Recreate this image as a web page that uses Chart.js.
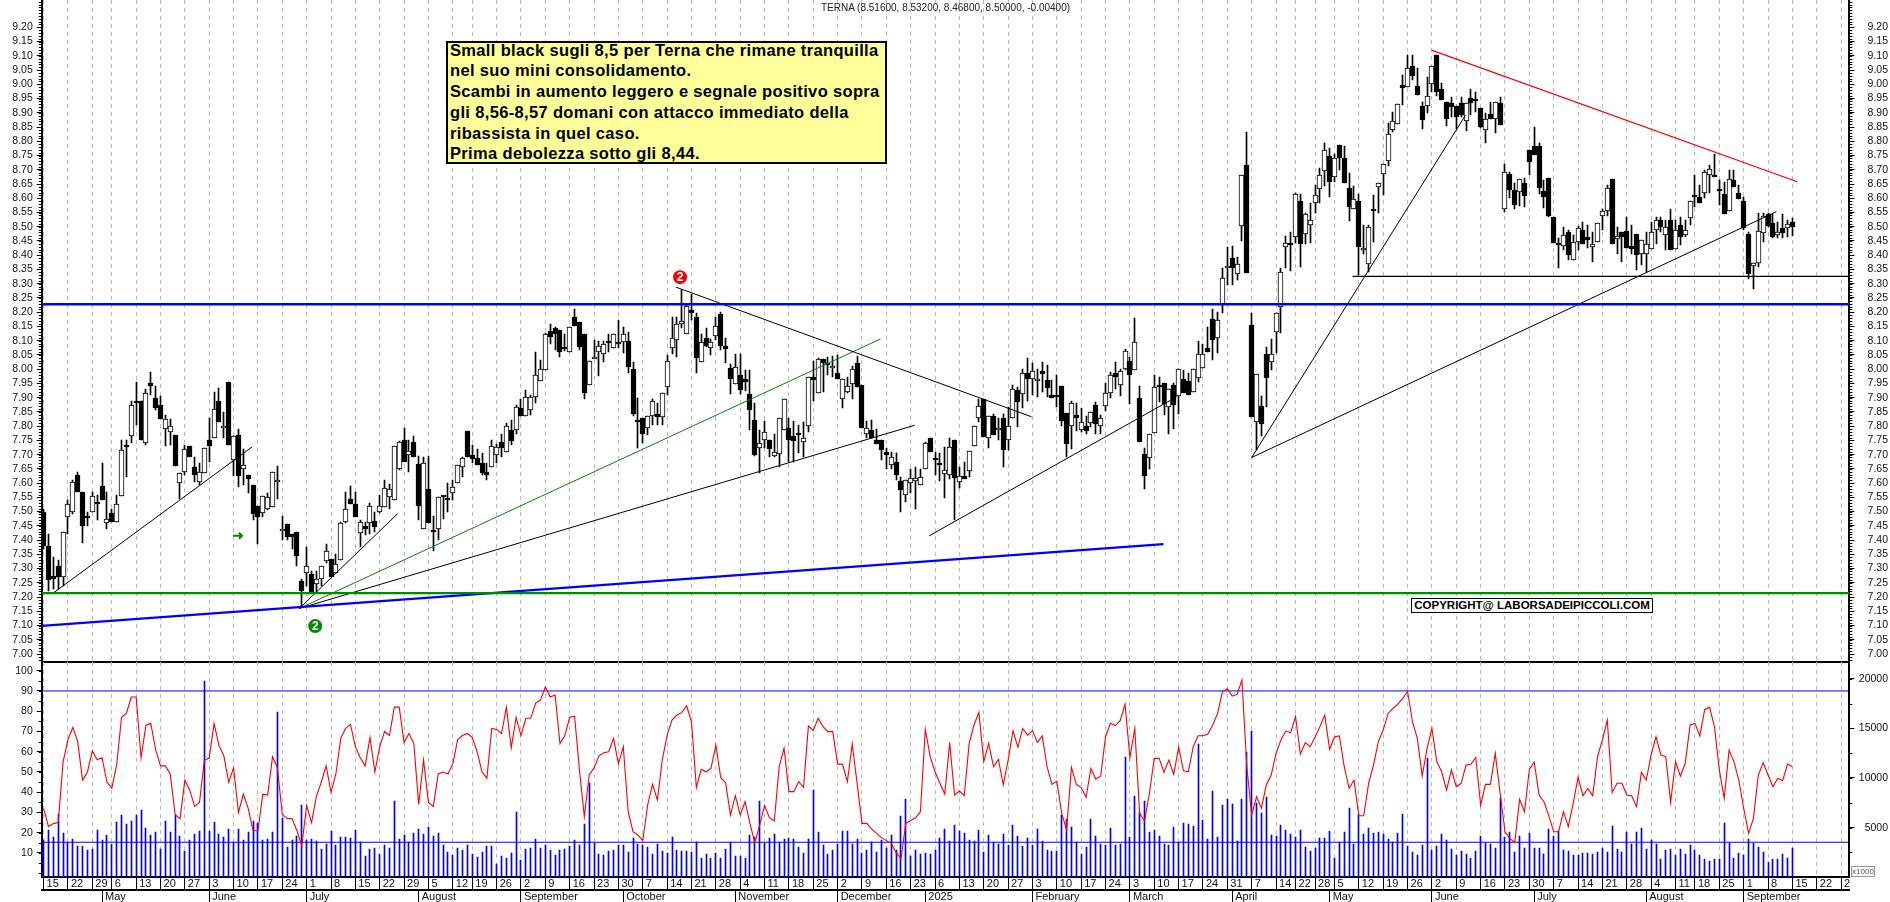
<!DOCTYPE html>
<html>
<head>
<meta charset="utf-8">
<title>TERNA</title>
<script src="https://cdn.jsdelivr.net/npm/chart.js@4/dist/chart.umd.min.js"></script>
<style>
html, body { margin: 0; padding: 0; background: #fff; width: 1890px; height: 902px; overflow: hidden; }
canvas { position: absolute; left: 0; }
#mainCanvas { top: 0; }
#lowerCanvas { top: 662px; }
.note { position: absolute; font-family: "Liberation Sans", Arial, sans-serif; white-space: nowrap; z-index: 5; box-sizing: border-box; }
#title { left: 821px; top: 2px; font-size: 10px; line-height: 12px; color: #222; }
#comment { left: 446px; top: 41px; width: 441px; height: 123px; background: #ffff99; border: 2px solid #000; padding: 0 0 0 2px; font-weight: bold; font-size: 16.5px; letter-spacing: 0.34px; line-height: 20.8px; color: #000; }
#comment div { margin-top: -3.5px; }
#copyright { left: 1411px; top: 598px; width: 242px; height: 15px; background: #fff; border: 1px solid #000; font-weight: bold; font-size: 11.5px; line-height: 13px; text-align: center; color: #000; }
#scaleNote { left: 1851px; top: 866px; width: 24px; height: 11px; background: #fff; border: 1px solid #999; font-size: 8px; line-height: 9px; text-align: center; color: #555; }
</style>
</head>
<body>
<canvas id="mainCanvas" width="1890" height="664"></canvas>
<canvas id="lowerCanvas" width="1890" height="240"></canvas>
<div class="note" id="title">TERNA (8.51600, 8.53200, 8.46800, 8.50000, -0.00400)</div>
<div class="note" id="comment"><div>Small black sugli 8,5 per Terna che rimane tranquilla<br>nel suo mini consolidamento.<br>Scambi in aumento leggero e segnale positivo sopra<br>gli 8,56-8,57 domani con attacco immediato della<br>ribassista in quel caso.<br>Prima debolezza sotto gli 8,44.</div></div>
<div class="note" id="copyright">COPYRIGHT@ LABORSADEIPICCOLI.COM</div>
<div class="note" id="scaleNote">x1000</div>
<script>
// daily bars, 15 Apr 2024 -> 15 Sep 2025
const opens = [
7.50,7.38,7.275,7.31,7.27,7.48,7.50,7.63,7.57,7.485,
7.50,7.535,7.59,7.46,7.495,7.465,7.555,7.735,7.765,7.89,
7.89,7.74,7.95,7.90,7.875,7.79,7.78,7.77,7.60,7.64,
7.73,7.655,7.605,7.635,7.75,7.76,7.89,7.795,7.955,7.68,
7.77,7.65,7.63,7.595,7.52,7.495,7.51,7.515,7.605,7.431,
7.455,7.42,7.43,7.255,7.285,7.28,7.245,7.265,7.325,7.335,
7.285,7.33,7.465,7.545,7.525,7.424,7.448,7.46,7.466,7.50,
7.515,7.552,7.542,7.651,7.75,7.697,7.746,7.667,7.44,7.578,
7.437,7.44,7.555,7.549,7.566,7.599,7.655,7.782,7.698,7.687,
7.669,7.64,7.658,7.70,7.743,7.71,7.788,7.785,7.863,7.836,
7.855,7.903,7.96,7.998,8.134,8.144,8.137,8.075,8.061,8.183,
8.165,8.125,7.946,8.035,8.059,8.052,8.10,8.076,8.097,8.094,
8.10,8.0,7.822,7.83,7.795,7.836,7.841,7.833,7.936,8.075,
8.104,8.16,8.124,8.207,8.183,8.024,8.111,8.073,8.117,8.193,
8.082,8.004,7.948,7.981,7.967,7.912,7.821,7.724,7.753,7.753,
7.696,7.703,7.788,7.795,7.766,7.777,7.744,7.802,7.971,7.918,
8.036,8.021,8.003,7.988,7.894,7.92,7.949,8.02,7.944,7.774,
7.785,7.75,7.75,7.708,7.664,7.674,7.606,7.56,7.599,7.606,
7.593,7.65,7.76,7.689,7.671,7.631,7.63,7.751,7.603,7.624,
7.644,7.73,7.827,7.896,7.757,7.834,7.785,7.827,7.753,7.83,
7.926,7.914,7.985,7.964,7.96,7.992,7.962,7.908,7.909,7.94,
7.845,7.799,7.839,7.785,7.80,7.81,7.873,7.802,7.87,7.918,
7.985,7.945,8.0,8.03,7.998,7.90,7.702,7.688,7.777,7.944,
7.95,7.868,7.944,7.906,7.967,7.958,7.921,7.97,8.005,8.076,
8.175,8.109,8.23,8.354,8.392,8.333,8.503,8.716,8.155,7.815,
7.87,8.053,8.024,8.129,8.217,8.429,8.444,8.465,8.592,8.473,
8.505,8.585,8.631,8.694,8.748,8.676,8.787,8.741,8.635,8.561,
8.59,8.418,8.368,8.562,8.638,8.684,8.73,8.838,8.859,8.996,
8.992,9.064,8.994,8.924,8.924,9.0,9.103,8.983,8.937,8.933,
8.924,8.935,8.872,8.951,8.949,8.916,8.84,8.895,8.88,8.933,
8.564,8.685,8.629,8.622,8.652,8.769,8.785,8.783,8.625,8.671,
8.534,8.443,8.434,8.481,8.384,8.445,8.49,8.463,8.43,8.445,
8.539,8.554,8.666,8.458,8.48,8.486,8.431,8.473,8.405,8.403,
8.423,8.49,8.522,8.472,8.522,8.423,8.505,8.472,8.531,8.613,
8.603,8.617,8.682,8.681,8.633,8.615,8.556,8.664,8.62,8.592,
8.473,8.363,8.373,8.477,8.544,8.513,8.472,8.497,8.497,8.516];
const highs = [
7.51,7.42,7.34,7.33,7.43,7.54,7.61,7.64,7.57,7.50,
7.57,7.56,7.67,7.57,7.51,7.56,7.75,7.75,7.89,7.955,
7.89,7.93,7.99,7.94,7.905,7.84,7.825,7.77,7.635,7.735,
7.73,7.69,7.67,7.725,7.83,7.92,7.935,7.85,7.955,7.765,
7.79,7.72,7.63,7.595,7.52,7.555,7.565,7.64,7.66,7.485,
7.455,7.42,7.43,7.265,7.375,7.29,7.29,7.31,7.385,7.335,
7.35,7.465,7.57,7.59,7.57,7.47,7.464,7.53,7.50,7.558,
7.61,7.596,7.729,7.749,7.793,7.75,7.765,7.695,7.69,7.695,
7.484,7.55,7.555,7.60,7.61,7.662,7.69,7.782,7.733,7.72,
7.704,7.67,7.753,7.737,7.772,7.81,7.82,7.874,7.897,7.926,
7.909,8.061,8.032,8.128,8.158,8.149,8.137,8.125,8.147,8.213,
8.165,8.125,8.028,8.104,8.10,8.10,8.123,8.125,8.172,8.149,
8.131,8.024,7.90,7.83,7.836,7.894,7.88,7.918,8.05,8.184,
8.184,8.278,8.23,8.263,8.198,8.125,8.146,8.105,8.184,8.20,
8.108,8.017,8.055,8.055,7.997,7.997,7.88,7.786,7.819,7.753,
7.774,7.83,7.894,7.827,7.819,7.804,7.815,7.973,8.03,8.038,
8.036,8.041,8.046,8.049,7.965,7.973,8.01,8.046,7.944,7.819,
7.823,7.79,7.75,7.722,7.71,7.706,7.622,7.612,7.649,7.655,
7.651,7.745,7.76,7.71,7.704,7.727,7.757,7.751,7.657,7.675,
7.714,7.799,7.897,7.896,7.836,7.844,7.827,7.844,7.868,7.944,
7.936,8.0,8.038,8.02,8.0,8.026,8.014,7.962,7.979,7.94,
7.845,7.888,7.883,7.862,7.835,7.85,7.885,7.839,7.95,7.99,
8.025,8.0,8.07,8.044,8.178,7.94,7.722,7.771,7.979,7.973,
7.95,7.931,7.95,7.999,7.997,7.985,8.0,8.10,8.09,8.149,
8.213,8.20,8.354,8.43,8.432,8.395,8.681,8.834,8.196,7.982,
7.905,8.079,8.105,8.196,8.354,8.467,8.482,8.62,8.616,8.549,
8.584,8.646,8.705,8.793,8.775,8.757,8.787,8.783,8.687,8.643,
8.615,8.506,8.506,8.611,8.654,8.722,8.863,8.904,8.93,9.032,
9.103,9.103,9.056,8.939,9.024,9.064,9.103,9.003,8.937,8.957,
8.924,8.957,8.933,8.982,8.974,8.916,8.898,8.939,8.937,8.957,
8.72,8.693,8.652,8.666,8.67,8.769,8.849,8.793,8.664,8.671,
8.534,8.459,8.50,8.49,8.47,8.502,8.516,8.506,8.482,8.514,
8.564,8.646,8.666,8.50,8.48,8.535,8.506,8.473,8.455,8.482,
8.517,8.535,8.535,8.523,8.564,8.523,8.535,8.523,8.589,8.681,
8.646,8.699,8.716,8.757,8.664,8.658,8.699,8.699,8.646,8.605,
8.482,8.373,8.549,8.549,8.549,8.544,8.517,8.544,8.523,8.532];
const lows = [
7.37,7.22,7.23,7.23,7.24,7.42,7.49,7.57,7.39,7.45,
7.50,7.47,7.54,7.44,7.465,7.465,7.555,7.62,7.74,7.805,
7.75,7.735,7.91,7.855,7.825,7.73,7.735,7.66,7.545,7.63,
7.69,7.605,7.595,7.635,7.675,7.76,7.815,7.76,7.735,7.625,
7.585,7.595,7.565,7.47,7.385,7.48,7.505,7.515,7.545,7.40,
7.40,7.37,7.31,7.165,7.24,7.215,7.215,7.24,7.32,7.27,
7.285,7.33,7.46,7.525,7.48,7.376,7.418,7.42,7.43,7.496,
7.515,7.51,7.542,7.646,7.675,7.64,7.692,7.47,7.44,7.46,
7.36,7.40,7.473,7.50,7.54,7.599,7.62,7.692,7.67,7.664,
7.63,7.61,7.658,7.67,7.69,7.71,7.733,7.774,7.836,7.836,
7.838,7.882,7.96,7.998,8.09,8.067,8.044,8.065,8.061,8.152,
8.067,7.895,7.946,8.035,7.976,8.026,8.06,8.076,8.076,8.057,
7.987,7.836,7.724,7.74,7.768,7.804,7.804,7.804,7.909,8.053,
8.044,8.143,8.124,8.172,7.987,8.024,8.078,8.049,8.102,8.067,
8.02,7.912,7.948,7.912,7.924,7.788,7.695,7.634,7.722,7.69,
7.692,7.657,7.788,7.675,7.675,7.704,7.69,7.78,7.89,7.918,
7.92,7.979,7.973,7.966,7.862,7.915,7.894,7.938,7.794,7.759,
7.757,7.738,7.681,7.649,7.648,7.61,7.499,7.532,7.564,7.509,
7.593,7.65,7.711,7.628,7.607,7.549,7.616,7.47,7.583,7.615,
7.622,7.73,7.815,7.763,7.724,7.768,7.751,7.657,7.716,7.83,
7.798,7.862,7.89,7.909,7.903,7.92,7.903,7.90,7.868,7.80,
7.69,7.72,7.784,7.78,7.771,7.798,7.772,7.772,7.854,7.90,
7.93,7.906,7.997,7.877,7.998,7.745,7.579,7.648,7.777,7.885,
7.839,7.772,7.79,7.844,7.915,7.909,7.921,7.956,8.005,8.06,
8.032,8.057,8.198,8.295,8.295,8.313,8.451,8.338,7.833,7.716,
7.765,7.866,7.997,8.058,8.128,8.354,8.345,8.444,8.36,8.44,
8.444,8.549,8.582,8.643,8.605,8.658,8.70,8.654,8.521,8.561,
8.33,8.406,8.342,8.447,8.547,8.611,8.714,8.834,8.859,8.927,
8.99,9.015,8.962,8.843,8.90,8.974,8.959,8.945,8.854,8.886,
8.842,8.886,8.837,8.892,8.904,8.845,8.793,8.88,8.828,8.856,
8.553,8.60,8.564,8.572,8.57,8.681,8.752,8.615,8.567,8.535,
8.444,8.356,8.42,8.383,8.384,8.42,8.44,8.424,8.377,8.445,
8.49,8.539,8.44,8.406,8.377,8.425,8.406,8.348,8.365,8.34,
8.423,8.439,8.482,8.418,8.419,8.423,8.436,8.465,8.506,8.57,
8.584,8.60,8.617,8.673,8.576,8.546,8.556,8.639,8.598,8.488,
8.315,8.283,8.357,8.447,8.50,8.462,8.459,8.459,8.465,8.468];
const closes = [
7.38,7.26,7.265,7.27,7.43,7.525,7.605,7.57,7.45,7.478,
7.555,7.527,7.54,7.475,7.465,7.525,7.715,7.727,7.875,7.882,
7.75,7.915,7.94,7.865,7.825,7.825,7.80,7.66,7.635,7.72,
7.69,7.63,7.64,7.725,7.73,7.86,7.815,7.80,7.735,7.765,
7.625,7.665,7.615,7.49,7.48,7.555,7.55,7.64,7.61,7.439,
7.41,7.41,7.345,7.22,7.31,7.215,7.265,7.31,7.36,7.27,
7.315,7.46,7.51,7.525,7.48,7.462,7.44,7.52,7.447,7.52,
7.584,7.578,7.729,7.743,7.675,7.713,7.692,7.52,7.67,7.46,
7.427,7.55,7.55,7.541,7.585,7.662,7.687,7.692,7.685,7.664,
7.636,7.63,7.729,7.727,7.725,7.802,7.749,7.866,7.836,7.904,
7.904,7.981,7.999,8.125,8.114,8.125,8.059,8.07,8.147,8.152,
8.079,7.917,8.028,8.044,8.083,8.09,8.093,8.125,8.089,8.125,
8.008,7.841,7.814,7.774,7.836,7.888,7.833,7.918,8.028,8.11,
8.158,8.17,8.221,8.196,8.04,8.094,8.082,8.094,8.152,8.081,
8.072,7.966,8.006,7.926,7.956,7.856,7.70,7.742,7.781,7.72,
7.709,7.83,7.894,7.75,7.749,7.769,7.757,7.973,7.963,8.034,
8.02,8.013,8.011,7.966,7.965,7.94,8.002,7.938,7.794,7.792,
7.757,7.738,7.716,7.70,7.692,7.629,7.575,7.612,7.618,7.618,
7.623,7.741,7.711,7.681,7.663,7.645,7.727,7.619,7.626,7.615,
7.714,7.799,7.869,7.763,7.836,7.768,7.794,7.717,7.802,7.929,
7.885,7.985,7.966,7.992,7.967,7.984,7.935,7.90,7.901,7.819,
7.738,7.883,7.829,7.816,7.784,7.848,7.807,7.827,7.917,7.98,
7.972,7.993,8.063,7.98,8.094,7.745,7.624,7.771,7.936,7.936,
7.878,7.931,7.874,7.999,7.915,7.909,7.999,8.052,8.055,8.06,
8.103,8.172,8.319,8.363,8.356,8.368,8.681,8.338,7.833,7.982,
7.806,7.97,8.055,8.196,8.34,8.444,8.436,8.615,8.44,8.543,
8.522,8.61,8.681,8.771,8.658,8.74,8.742,8.654,8.57,8.596,
8.43,8.424,8.498,8.554,8.654,8.722,8.824,8.872,8.93,8.988,
9.056,9.029,8.962,8.875,8.96,9.064,8.974,8.945,8.88,8.921,
8.884,8.892,8.933,8.933,8.941,8.849,8.88,8.88,8.937,8.856,
8.691,8.63,8.577,8.666,8.609,8.728,8.752,8.637,8.605,8.539,
8.444,8.435,8.472,8.402,8.445,8.494,8.44,8.455,8.44,8.512,
8.554,8.635,8.44,8.466,8.465,8.425,8.423,8.402,8.455,8.441,
8.48,8.522,8.50,8.498,8.419,8.49,8.465,8.487,8.589,8.605,
8.584,8.691,8.701,8.673,8.625,8.546,8.666,8.639,8.598,8.494,
8.335,8.373,8.486,8.539,8.502,8.465,8.48,8.479,8.508,8.50];

// red oscillator, left scale of the lower panel
const oscillator = [
32,23,24.5,25,55,66,72,65,46,50,
60.5,56,57,45,42,53.5,77,79,87,87,
57,73,74,61,53,53,49,29,27,46,
41,33,35,55.6,57,74,63,58,45,52,
30,39,32,21,21,39,38.6,57.5,52,29,
27,27,21,13.5,33.5,25,38,45,53,40,
49,66.6,71.5,73.5,62.5,57,53,67,50,62.5,
70,68,82,82,64.5,69,64,34,56,35,
33,49,50,49,54,66,68,69,67,60,
50,47,71.5,71,69,82,62,77,68,76.5,
76.5,84,85.5,92,87,88,64,68,77,77.5,
51,28,48.5,52,58,59.5,60,66.6,54,62.5,
30.4,20.5,18.9,16.1,33.7,43.9,36.2,55.9,68.2,75.6,
78.1,79.3,82.7,74.8,42.4,51.3,50.1,51.8,63.3,47.2,
44.7,28.8,38.3,28.8,35.3,24.6,15.1,23.8,33.4,27.4,
25.8,52.6,61.7,40.3,40.3,45.2,42.4,72.7,70.4,76.5,
72.4,69.9,69.9,53.9,53.9,45.2,63.8,44.4,24.6,24.6,
21.8,19.7,17.6,16.1,14.8,10.2,7.2,24.6,26,27.4,
30.4,71,57.6,50.1,44.4,39.1,64.5,38.6,40.6,38.3,
64.1,73.2,79.4,55.1,64.1,52.6,56.2,43.6,55.9,70.4,
62.2,71.5,68.2,70.4,64.6,67.8,52.6,43.9,45.5,29.6,
21.4,52.3,43.9,42.3,37.5,51.8,46.4,48,67.4,74,
72.9,75.3,83.5,57.1,71.5,29.6,25.8,39.5,56.7,56.7,
49.8,55.9,48.8,62.2,50.6,50.1,62.5,67.9,67.9,68.7,
73.2,78.9,89.6,91.1,87.5,88.3,95.4,52.6,28.8,37.8,
32.1,43.6,48.5,59.2,65.8,70.2,69.4,77.3,58.9,64.5,
62.5,67.1,72.4,78.1,61.2,67.4,67.8,52.6,41.9,46,
28.4,28.4,44.4,53.4,65,70.7,78.9,81.4,83.5,86.3,
89.8,74.8,66.6,48,61.7,71.5,55.1,50.1,41.1,51,
42.7,44.4,53.4,53.8,57.2,33.7,43.9,43.9,59.2,39.5,
20.5,17.2,15.1,36.5,30.4,51.3,54.8,38.6,35.3,28.3,
20.5,20.5,30.4,23,34.5,47.4,38.3,41.9,38.3,57.6,
65.8,75.6,39.8,44.4,44.4,38.6,38.3,32.9,49.8,46,
58.4,67.4,58.4,57.6,35,55.1,48,54.3,73.2,74,
67.8,80.9,81.9,72.4,51,37,60.8,55.1,46,32.1,
19.7,27.1,48.5,54.6,48.5,42.7,46.9,45.7,53.9,52.6];

// blue volume bars, right scale of the lower panel
const volumes = [
3760,4770,4100,6380,4430,3590,3830,3190,3160,2750,
2820,4770,3760,4260,3360,5570,6280,5370,5710,6280,
6780,5000,4260,4570,2820,5670,4600,6280,4160,2690,
3760,4360,4670,19770,4700,5570,4360,4100,4900,3590,
4870,3760,4600,5670,5510,3760,3830,4570,16680,5940,
3020,3760,4200,7280,3760,3830,3630,2850,3360,4670,
3290,4100,4060,3990,4770,3560,2180,2850,2950,2320,
3260,2950,7690,3860,4230,3560,4500,4870,4360,5070,
4160,4460,3290,2580,2220,2950,2750,3260,2350,2080,
2550,3160,3160,1380,2150,1950,2450,6580,1750,2850,
2950,3860,2920,3260,2750,2250,2750,2850,3190,3760,
3260,5370,9470,3420,2350,2280,2690,2750,3290,3290,
2580,3990,3360,3290,3050,2350,3360,2650,2450,4060,
2750,2650,2650,2580,3520,1950,2350,1950,2450,1950,
2850,3520,2150,2150,1950,4260,4030,7690,3420,3990,
4360,3590,3860,3960,3860,3050,2450,3860,8800,4530,
3260,2350,2750,3360,4670,4670,3360,3860,2450,2750,
3520,2550,3760,2950,4260,2750,6180,7890,2150,2750,
2350,2450,2350,2750,3960,4870,3660,5270,4670,4460,
3760,3660,4770,2550,4260,3560,3360,4360,3260,5270,
4160,3160,3960,3260,4870,3660,2750,2650,2650,6280,
5870,5070,3560,2350,3050,5870,4160,3360,3290,4970,
3260,3360,12150,4060,8190,6610,7690,4570,4770,4160,
3360,3260,5070,3560,5470,5370,5170,13430,5770,3860,
8690,4060,7280,7890,7390,3660,7890,12660,14740,7450,
6510,8120,4260,4160,5270,4770,4360,4100,4770,3090,
2690,2990,3990,3990,4670,1910,3520,4600,6980,3360,
6380,4360,4970,4500,4570,4360,3860,3560,4460,6380,
3160,2580,2250,3260,11980,2750,3160,4360,3760,2850,
2250,2650,2350,1950,2650,4160,3490,3360,2950,8020,
4100,4570,2550,4160,2950,4460,2950,2950,2350,4870,
4160,4670,2750,2650,2250,2250,2450,2450,2350,2550,
2950,2550,5170,2850,2550,4570,3360,4570,4970,2850,
3760,3360,1850,2750,2850,2250,2850,2350,3260,2750,
2220,1850,1640,1850,1850,5470,3490,1950,2450,2250,
3860,3490,3050,2550,1540,1850,1850,2350,1950,2950];

// axis ticks
const priceTicks = [7.00,7.05,7.10,7.15,7.20,7.25,7.30,7.35,7.40,7.45,7.50,7.55,7.60,7.65,7.70,7.75,7.80,7.85,7.90,7.95,8.00,8.05,8.10,8.15,8.20,8.25,8.30,8.35,8.40,8.45,8.50,8.55,8.60,8.65,8.70,8.75,8.80,8.85,8.90,8.95,9.00,9.05,9.10,9.15,9.20];
const oscTicks = [10,20,30,40,50,60,70,80,90,100];
const volTicks = [5000,10000,15000,20000];
const weekIndex = [0,5,10,14,19,24,29,34,39,44,49,54,59,64,69,74,79,84,88,93,98,103,108,113,118,123,128,133,138,143,148,153,158,163,168,173,178,183,188,193,198,203,208,213,218,223,228,233,238,243,248,253,257,261,265,270,275,280,285,290,295,300,305,310,315,320,325,330,335,339,344,349,354,359,364,369];
const weekLabels = ['15','22','29','6','13','20','27','3','10','17','24','1','8','15','22','29','5','12','19','26','2','9','16','23','30','7','14','21','28','4','11','18','25','2','9','16','23','6','13','20','27','3','10','17','24','3','10','17','24','31','7','14','22','28','5','12','19','26','2','9','16','23','30','7','14','21','28','4','11','18','25','1','8','15','22','2'];
const monthIndex = [12,34,54,77,98,119,142,163,181,203,223,244,264,285,306,329,349];
const monthLabels = ['May','June','July','August','September','October','November','December','2025','February','March','April','May','June','July','August','September'];

// drawn lines: [bar index, price, bar index, price]
const blackLines = [
  [1.9,7.213,42.8,7.727],
  [52.5,7.16,72.7,7.493],
  [52.5,7.16,178.8,7.803],
  [129.8,8.288,202.8,7.833],
  [181.8,7.415,232.6,7.903],
  [248,7.69,291.9,8.892],
  [248,7.69,355.7,8.553]
];
const greenLines = [[52.5,7.16,171.8,8.106]];
const redLines = [[284.9,9.12,360,8.658]];
const supportLines = [[-0.37,7.099,229.9,7.386]];
const blueLevel = 8.228;
const greenLevel = 7.214;
const blackLevel = 8.326;
const oscHigh = 90;
const oscLow = 15.3;
const redMarker = [130.65,8.323];
const greenMarker = [55.76,7.098];
const arrowMarker = [39.9,7.415];

const FONT = 'Liberation Sans';
const xMin = -0.37, xMax = 370.7;
const barIdx = opens.map((_, i) => i);

function noPad(box, size) {
  if (box.isHorizontal()) box.height = size; else box.width = size;
  box.paddingLeft = box.paddingRight = box.paddingTop = box.paddingBottom = 0;
}

function segment(pts, color, width, yAxisID) {
  return {
    type: 'line', data: [{ x: pts[0], y: pts[1] }, { x: pts[2], y: pts[3] }],
    borderColor: color, borderWidth: width, pointRadius: 0, tension: 0, order: 1, yAxisID: yAxisID || 'y'
  };
}

// snap bars to whole pixels so the thin ones stay sharp
const snapBars = {
  id: 'snapBars',
  afterDatasetsUpdate(chart) {
    chart.data.datasets.forEach((ds, d) => {
      if (ds.type !== 'bar') return;
      chart.getDatasetMeta(d).data.forEach(el => {
        el.x = Math.round(el.x - 0.5) + 0.5;
        el.y = Math.round(el.y);
        el.base = Math.round(el.base);
        if (ds.minHeight && el.base - el.y < ds.minHeight) el.y = el.base - ds.minHeight;
      });
    });
  }
};

// short ticks in between the labelled ones
function minorTicks(list) {
  return {
    id: 'minorTicks',
    afterDraw(chart) {
      const ctx = chart.ctx;
      ctx.save();
      ctx.strokeStyle = '#000';
      ctx.lineWidth = 1;
      ctx.beginPath();
      list.forEach(t => {
        const sc = chart.scales[t.id];
        const x = t.side < 0 ? sc.right : sc.left;
        for (let v = t.from; v <= t.to + 1e-6; v += t.step) {
          const y = Math.round(sc.getPixelForValue(v)) + 0.5;
          if (y < chart.chartArea.top || y > chart.chartArea.bottom) continue;
          ctx.moveTo(x, y);
          ctx.lineTo(x + t.side * 3, y);
        }
      });
      ctx.stroke();
      ctx.restore();
    }
  };
}

// numbered circles and the little green arrow
const signals = {
  id: 'signals',
  afterDatasetsDraw(chart) {
    const { x, y } = chart.scales;
    const ctx = chart.ctx;
    ctx.save();
    [[redMarker, '#ff0000'], [greenMarker, '#008a00']].forEach(([m, col]) => {
      const px = x.getPixelForValue(m[0]), py = y.getPixelForValue(m[1]);
      ctx.fillStyle = col;
      ctx.beginPath();
      ctx.arc(px, py, 7, 0, Math.PI * 2);
      ctx.fill();
      ctx.fillStyle = '#fff';
      ctx.font = 'bold 12px "' + FONT + '"';
      ctx.textAlign = 'center';
      ctx.textBaseline = 'middle';
      ctx.fillText('2', px, py + 0.5);
    });
    const ax = x.getPixelForValue(arrowMarker[0]), ay = y.getPixelForValue(arrowMarker[1]);
    ctx.strokeStyle = '#008a00';
    ctx.lineWidth = 2;
    ctx.beginPath();
    ctx.moveTo(ax - 5, ay);
    ctx.lineTo(ax + 4, ay);
    ctx.moveTo(ax + 1, ay - 3);
    ctx.lineTo(ax + 4, ay);
    ctx.lineTo(ax + 1, ay + 3);
    ctx.stroke();
    ctx.restore();
  }
};

function priceAxis(position, size) {
  return {
    type: 'linear', position, min: 6.971, max: 9.296,
    afterBuildTicks: s => { s.ticks = priceTicks.map(v => ({ value: v })); },
    afterFit: b => noPad(b, size),
    grid: { drawOnChartArea: false, tickLength: 5, tickColor: '#000', tickWidth: 1 },
    border: { color: '#000', width: 2 },
    ticks: {
      autoSkip: false, padding: 4, color: '#111', crossAlign: position === 'right' ? 'far' : 'near',
      font: { family: FONT, size: 10.5 },
      callback: v => v.toFixed(2)
    }
  };
}

new Chart(document.getElementById('mainCanvas'), {
  type: 'bar',
  data: {
    datasets: [
      {
        type: 'bar', order: 5, grouped: false, barThickness: 1, backgroundColor: '#000',
        data: barIdx.map(i => ({ x: i, y: [lows[i], highs[i]] }))
      },
      {
        type: 'bar', order: 4, grouped: false, barThickness: 5, minHeight: 2, borderWidth: 1, borderColor: '#000', borderSkipped: false,
        backgroundColor: barIdx.map(i => closes[i] > opens[i] ? '#fff' : '#000'),
        data: barIdx.map(i => ({ x: i, y: [Math.min(opens[i], closes[i]), Math.max(opens[i], closes[i])] }))
      },
      segment([xMin, blueLevel, xMax, blueLevel], '#0000ff', 2.5),
      segment([xMin, greenLevel, xMax, greenLevel], '#008a00', 2.2),
      segment([268.7, blackLevel, xMax, blackLevel], '#000', 1.2),
      ...supportLines.map(l => segment(l, '#0000ff', 2.4)),
      ...blackLines.map(l => segment(l, '#000', 1)),
      ...greenLines.map(l => segment(l, '#008a00', 1)),
      ...redLines.map(l => segment(l, '#ff0000', 1.2))
    ]
  },
  options: {
    responsive: false, animation: false, devicePixelRatio: 1,
    layout: { padding: { left: 0, right: 2, top: 0, bottom: 1.7 } },
    plugins: { legend: { display: false }, tooltip: { enabled: false } },
    scales: {
      x: {
        type: 'linear', min: xMin, max: xMax, offset: false,
        afterBuildTicks: s => { s.ticks = weekIndex.map(v => ({ value: v })); },
        afterFit: b => noPad(b, 0),
        grid: { offset: false, color: '#bdbdbd', lineWidth: 1, drawTicks: false },
        border: { color: '#000', width: 2, dash: [4, 4] },
        ticks: { display: false, autoSkip: false }
      },
      y: priceAxis('left', 41.8),
      yR: priceAxis('right', 38.6)
    }
  },
  plugins: [snapBars, signals, minorTicks([
    { id: 'y', from: 6.98, to: 9.29, step: 0.01, side: -1 },
    { id: 'yR', from: 6.98, to: 9.29, step: 0.01, side: 1 }
  ])]
});

new Chart(document.getElementById('lowerCanvas'), {
  type: 'bar',
  data: {
    datasets: [
      {
        type: 'bar', order: 5, grouped: false, barThickness: 1, backgroundColor: '#0000ff', yAxisID: 'yVol',
        data: barIdx.map(i => ({ x: i, y: volumes[i] }))
      },
      {
        type: 'line', order: 1, borderColor: '#ff0000', borderWidth: 1.1, pointRadius: 0, tension: 0, yAxisID: 'y',
        data: barIdx.map(i => ({ x: i, y: oscillator[i] }))
      },
      segment([xMin, oscHigh, xMax, oscHigh], '#0000ff', 1),
      segment([xMin, oscLow, xMax, oscLow], '#0000ff', 1)
    ]
  },
  options: {
    responsive: false, animation: false, devicePixelRatio: 1,
    layout: { padding: { left: 0, right: 2, top: 0, bottom: 0 } },
    plugins: { legend: { display: false }, tooltip: { enabled: false } },
    scales: {
      x: {
        type: 'linear', min: xMin, max: xMax, offset: false, position: 'bottom', weight: 1,
        afterBuildTicks: s => { s.ticks = weekIndex.map(v => ({ value: v })); },
        afterFit: b => noPad(b, 12.7),
        grid: { offset: false, color: '#bdbdbd', lineWidth: 1, tickLength: 12.7, tickColor: '#000', tickBorderDash: [] },
        border: { color: '#000', width: 2, dash: [4, 4] },
        ticks: {
          autoSkip: false, maxRotation: 0, minRotation: 0, align: 'start', labelOffset: 3, padding: -12.2,
          color: '#111', font: { family: FONT, size: 11 },
          callback: (v, i) => weekLabels[i]
        }
      },
      x2: {
        type: 'linear', min: xMin, max: xMax, offset: false, position: 'bottom', weight: 2,
        afterBuildTicks: s => { s.ticks = monthIndex.map(v => ({ value: v })); },
        afterFit: b => noPad(b, 12),
        grid: { offset: false, drawOnChartArea: false, tickLength: 12, tickColor: '#000' },
        border: { color: '#000', width: 2 },
        ticks: {
          autoSkip: false, maxRotation: 0, minRotation: 0, align: 'start', labelOffset: 3, padding: -12,
          color: '#111', font: { family: FONT, size: 11 },
          callback: (v, i) => monthLabels[i]
        }
      },
      y: {
        type: 'linear', position: 'left', min: -2, max: 104.3,
        afterBuildTicks: s => { s.ticks = oscTicks.map(v => ({ value: v })); },
        afterFit: b => noPad(b, 41.8),
        grid: { drawOnChartArea: false, tickLength: 5, tickColor: '#000' },
        border: { color: '#000', width: 2 },
        ticks: { autoSkip: false, padding: 4, color: '#111', font: { family: FONT, size: 10.5 }, callback: v => String(v) }
      },
      yVol: {
        type: 'linear', position: 'right', min: 0, max: 21680,
        afterBuildTicks: s => { s.ticks = volTicks.map(v => ({ value: v })); },
        afterFit: b => noPad(b, 38.6),
        grid: { drawOnChartArea: false, tickLength: 5, tickColor: '#000' },
        border: { color: '#000', width: 2 },
        ticks: { autoSkip: false, padding: 4, crossAlign: 'far', color: '#111', font: { family: FONT, size: 10.5 }, callback: v => String(v) }
      }
    }
  },
  plugins: [snapBars, minorTicks([
    { id: 'y', from: 0, to: 100, step: 5, side: -1 },
    { id: 'yVol', from: 2500, to: 20000, step: 2500, side: 1 }
  ])]
});
</script>
</body>
</html>
